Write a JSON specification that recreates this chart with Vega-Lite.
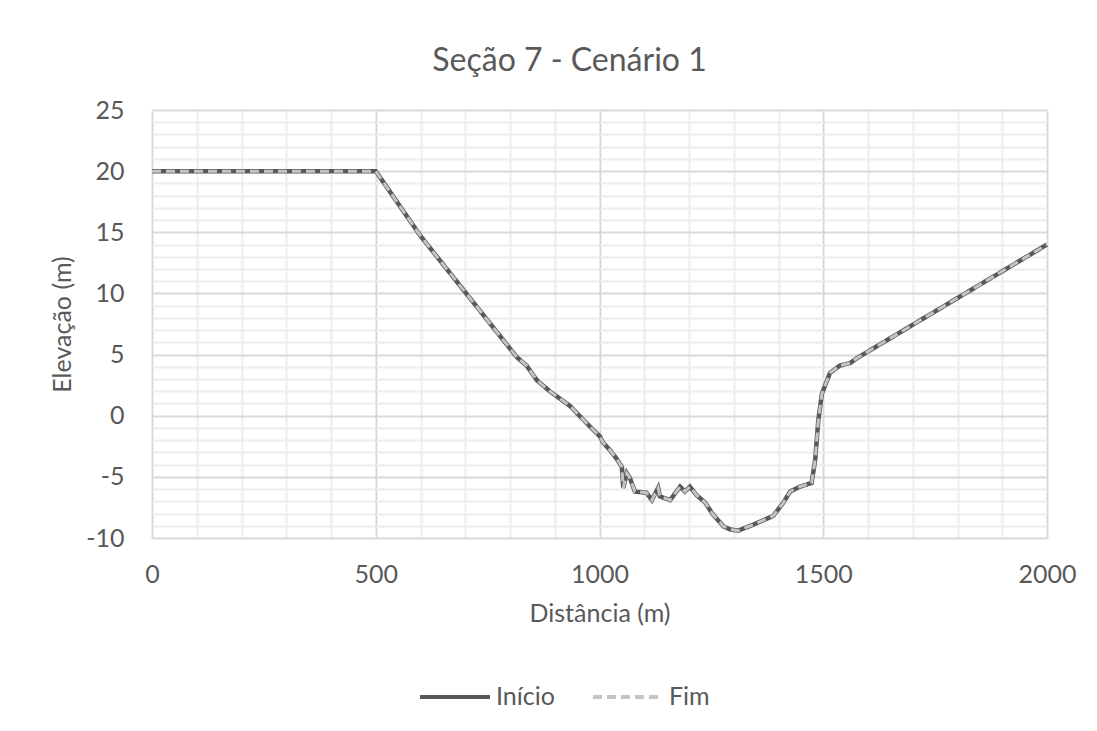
{
  "$schema": "https://vega.github.io/schema/vega-lite/v6.json",
  "autosize": "none",
  "width": 895,
  "height": 428,
  "padding": {"left": 152, "top": 110, "right": 50, "bottom": 193},
  "background": "white",
  "title": {
    "text": "Seção 7 - Cenário 1",
    "font": "Lato",
    "fontSize": 32,
    "fontWeight": "normal",
    "color": "#595959",
    "anchor": "middle",
    "offset": 20,
    "dx": -30
  },
  "config": {
    "font": "Lato",
    "view": {"stroke": null},
    "axis": {
      "labelFont": "Lato",
      "labelFontSize": 25,
      "labelColor": "#595959",
      "titleFont": "Lato",
      "titleFontSize": 25,
      "titleFontWeight": "normal",
      "titleColor": "#595959",
      "domain": false,
      "ticks": false,
      "grid": true,
      "labelOverlap": false,
      "labelFlush": false
    },
    "legend": {
      "labelFont": "Lato",
      "labelFontSize": 25,
      "labelColor": "#595959"
    }
  },
  "data": {
    "values": [
      {"d": 0, "Início": 20, "Fim": 20},
      {"d": 500, "Início": 20, "Fim": 20},
      {"d": 600, "Início": 14.7, "Fim": 14.7},
      {"d": 700, "Início": 10.1, "Fim": 10.1},
      {"d": 815, "Início": 4.8, "Fim": 4.8},
      {"d": 837, "Início": 4.1, "Fim": 4.1},
      {"d": 860, "Início": 2.9, "Fim": 2.9},
      {"d": 889, "Início": 2.0, "Fim": 2.0},
      {"d": 934, "Início": 0.8, "Fim": 0.8},
      {"d": 979, "Início": -0.9, "Fim": -0.9},
      {"d": 1001, "Início": -1.7, "Fim": -1.7},
      {"d": 1008, "Início": -2.2, "Fim": -2.2},
      {"d": 1023, "Início": -2.8, "Fim": -2.8},
      {"d": 1038, "Início": -3.5, "Fim": -3.5},
      {"d": 1050, "Início": -4.2, "Fim": -4.2},
      {"d": 1053, "Início": -5.9, "Fim": -5.9},
      {"d": 1061, "Início": -4.7, "Fim": -4.7},
      {"d": 1068, "Início": -5.1, "Fim": -5.1},
      {"d": 1079, "Início": -6.2, "Fim": -6.2},
      {"d": 1105, "Início": -6.3, "Fim": -6.3},
      {"d": 1117, "Início": -6.9, "Fim": -6.9},
      {"d": 1131, "Início": -5.9, "Fim": -5.9},
      {"d": 1135, "Início": -6.6, "Fim": -6.6},
      {"d": 1158, "Início": -6.9, "Fim": -6.9},
      {"d": 1180, "Início": -5.8, "Fim": -5.8},
      {"d": 1191, "Início": -6.2, "Fim": -6.2},
      {"d": 1202, "Início": -5.8, "Fim": -5.8},
      {"d": 1217, "Início": -6.5, "Fim": -6.5},
      {"d": 1236, "Início": -7.1, "Fim": -7.1},
      {"d": 1254, "Início": -8.1, "Fim": -8.1},
      {"d": 1277, "Início": -9.05, "Fim": -9.05},
      {"d": 1292, "Início": -9.3, "Fim": -9.3},
      {"d": 1310, "Início": -9.4, "Fim": -9.4},
      {"d": 1344, "Início": -8.9, "Fim": -8.9},
      {"d": 1388, "Início": -8.2, "Fim": -8.2},
      {"d": 1411, "Início": -7.1, "Fim": -7.1},
      {"d": 1426, "Início": -6.2, "Fim": -6.2},
      {"d": 1448, "Início": -5.8, "Fim": -5.8},
      {"d": 1474, "Início": -5.5, "Fim": -5.5},
      {"d": 1482, "Início": -3.6, "Fim": -3.6},
      {"d": 1489, "Início": -0.35, "Fim": -0.35},
      {"d": 1497, "Início": 1.8, "Fim": 1.8},
      {"d": 1515, "Início": 3.5, "Fim": 3.5},
      {"d": 1537, "Início": 4.1, "Fim": 4.1},
      {"d": 1560, "Início": 4.3, "Fim": 4.3},
      {"d": 1575, "Início": 4.7, "Fim": 4.7},
      {"d": 2000, "Início": 14, "Fim": 14}
    ]
  },
  "encoding": {
    "x": {
      "field": "d",
      "type": "quantitative",
      "scale": {"domain": [0, 2000], "nice": false},
      "axis": {
        "title": "Distância (m)",
        "values": [0,100,200,300,400,500,600,700,800,900,1000,1100,1200,1300,1400,1500,1600,1700,1800,1900,2000],
        "labelExpr": "datum.value % 500 === 0 ? '' + datum.value : ''",
        "labelPadding": 24,
        "titlePadding": 14,
        "gridColor": {"condition": {"test": "datum.value % 500 === 0", "value": "#d9d9d9"}, "value": "#ededed"},
        "gridWidth": 2
      }
    }
  },
  "layer": [
    {
      "mark": {"type": "line", "strokeWidth": 4.5, "interpolate": "linear"},
      "encoding": {
        "y": {
          "field": "Início",
          "type": "quantitative",
          "scale": {"domain": [-10, 25], "nice": false, "zero": false},
          "axis": {
            "title": "Elevação (m)",
            "values": [-10,-9,-8,-7,-6,-5,-4,-3,-2,-1,0,1,2,3,4,5,6,7,8,9,10,11,12,13,14,15,16,17,18,19,20,21,22,23,24,25],
            "labelExpr": "datum.value % 5 === 0 ? '' + datum.value : ''",
            "labelPadding": 28,
            "titlePadding": 10,
            "gridColor": {"condition": {"test": "datum.value % 5 === 0", "value": "#d9d9d9"}, "value": "#ededed"},
            "gridWidth": 2
          }
        },
        "color": {
          "datum": "Início",
          "type": "nominal",
          "scale": {"domain": ["Início", "Fim"], "range": ["#595959", "#c4c4c4"]},
          "legend": {
            "title": null,
            "orient": "none",
            "direction": "horizontal",
            "legendX": 266,
            "legendY": 550,
            "symbolType": "stroke",
            "symbolSize": 4900,
            "symbolStrokeWidth": 4,
            "labelOffset": 4,
            "columnPadding": 30
          }
        },
        "strokeDash": {
          "datum": "Início",
          "type": "nominal",
          "scale": {"domain": ["Início", "Fim"], "range": [[1, 0], [9, 5]]},
          "legend": null
        }
      }
    },
    {
      "mark": {"type": "line", "strokeWidth": 3, "interpolate": "linear"},
      "encoding": {
        "y": {
          "field": "Fim",
          "type": "quantitative",
          "scale": {"domain": [-10, 25], "nice": false, "zero": false},
          "axis": {
            "title": "Elevação (m)",
            "values": [-10,-9,-8,-7,-6,-5,-4,-3,-2,-1,0,1,2,3,4,5,6,7,8,9,10,11,12,13,14,15,16,17,18,19,20,21,22,23,24,25],
            "labelExpr": "datum.value % 5 === 0 ? '' + datum.value : ''",
            "labelPadding": 28,
            "titlePadding": 10,
            "gridColor": {"condition": {"test": "datum.value % 5 === 0", "value": "#d9d9d9"}, "value": "#ededed"},
            "gridWidth": 2
          }
        },
        "color": {"datum": "Fim", "type": "nominal"},
        "strokeDash": {"datum": "Fim", "type": "nominal"}
      }
    }
  ]
}
